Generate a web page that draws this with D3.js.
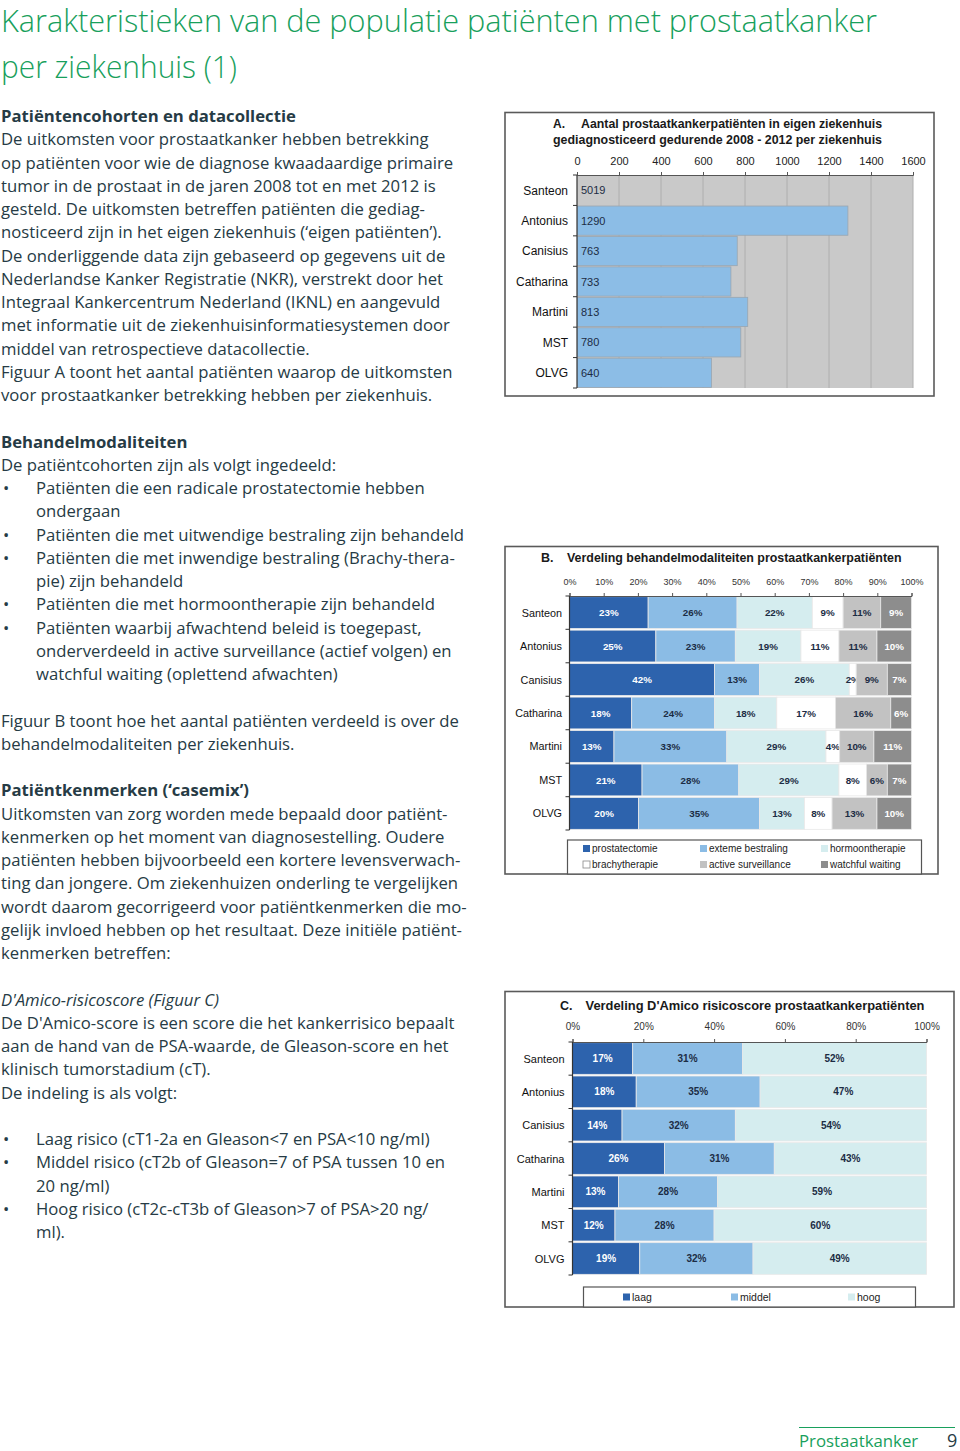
<!DOCTYPE html>
<html><head><meta charset="utf-8">
<script src="https://cdn.jsdelivr.net/npm/d3@7"></script>
<style>body{margin:0;background:#fff}svg{display:block}</style>
</head><body><svg id="page" width="960" height="1451"></svg>
<script>
// ---------- DATA ----------
const hospitals = ["Santeon","Antonius","Canisius","Catharina","Martini","MST","OLVG"];
const patientCounts = [5019,1290,763,733,813,780,640];
const countTicks = [0,200,400,600,800,1000,1200,1400,1600];

const modalities = ["prostatectomie","exteme bestraling","hormoontherapie","brachytherapie","active surveillance","watchful waiting"];
const prostatectomie     = [23,25,42,18,13,21,20];
const externeBestraling  = [26,23,13,24,33,28,35];
const hormoontherapie    = [22,19,26,18,29,29,13];
const brachytherapie     = [9,11,2,17,4,8,8];
const activeSurveillance = [11,11,9,16,10,6,13];
const watchfulWaiting    = [9,10,7,6,11,7,10];
const modalityTicks = [0,0.1,0.2,0.3,0.4,0.5,0.6,0.7,0.8,0.9,1];

const riskGroups = ["laag","middel","hoog"];
const riskLaag   = [17,18,14,26,13,12,19];
const riskMiddel = [31,35,32,31,28,28,32];
const riskHoog   = [52,47,54,43,59,60,49];
const riskTicks = [0,0.2,0.4,0.6,0.8,1];

// ---------- STYLE ----------
const GREEN = "#18a05c", TEXT = "#263b45";
const modalityColors = ["#2d63ad","#8bbce5","#d5edef","#ffffff","#c2c2c2","#8d8d8d"];
const modalityLabelColors = ["#ffffff","#1c2c44","#1c2c44","#1c2c44","#1c2c44","#ffffff"];
const riskColors = ["#2d63ad","#8bbce5","#d5edef"];
const riskLabelColors = ["#ffffff","#1c2c44","#1c2c44"];
const ARIAL = "'Liberation Sans', Arial, sans-serif";
const BODY = "'Open Sans', 'Noto Sans', sans-serif";

const svg = d3.select("#page");

// ---------- PAGE TITLE ----------
const titleLines = ["Karakteristieken van de populatie patiënten met prostaatkanker","per ziekenhuis (1)"];
const titleW = [876, 236];
titleLines.forEach((t,i)=>{
  svg.append("text").attr("x",1).attr("y",32+i*46).text(t)
    .attr("font-family",BODY).attr("font-weight",300).attr("font-size",31)
    .attr("fill",GREEN).attr("textLength",titleW[i]).attr("lengthAdjust","spacingAndGlyphs");
});

// ---------- BODY TEXT ----------
const body = [
 [0,"b","Patiëntencohorten en datacollectie"],
 [1,"n","De uitkomsten voor prostaatkanker hebben betrekking"],
 [2,"n","op patiënten voor wie de diagnose kwaadaardige primaire"],
 [3,"n","tumor in de prostaat in de jaren 2008 tot en met 2012 is"],
 [4,"n","gesteld. De uitkomsten betreffen patiënten die gediag-"],
 [5,"n","nosticeerd zijn in het eigen ziekenhuis (‘eigen patiënten’)."],
 [6,"n","De onderliggende data zijn gebaseerd op gegevens uit de"],
 [7,"n","Nederlandse Kanker Registratie (NKR), verstrekt door het"],
 [8,"n","Integraal Kankercentrum Nederland (IKNL) en aangevuld"],
 [9,"n","met informatie uit de ziekenhuisinformatiesystemen door"],
 [10,"n","middel van retrospectieve datacollectie."],
 [11,"n","Figuur A toont het aantal patiënten waarop de uitkomsten"],
 [12,"n","voor prostaatkanker betrekking hebben per ziekenhuis."],
 [14,"b","Behandelmodaliteiten"],
 [15,"n","De patiëntcohorten zijn als volgt ingedeeld:"],
 [16,"•","Patiënten die een radicale prostatectomie hebben"],
 [17,"s","ondergaan"],
 [18,"•","Patiënten die met uitwendige bestraling zijn behandeld"],
 [19,"•","Patiënten die met inwendige bestraling (Brachy-thera-"],
 [20,"s","pie) zijn behandeld"],
 [21,"•","Patiënten die met hormoontherapie zijn behandeld"],
 [22,"•","Patiënten waarbij afwachtend beleid is toegepast,"],
 [23,"s","onderverdeeld in active surveillance (actief volgen) en"],
 [24,"s","watchful waiting (oplettend afwachten)"],
 [26,"n","Figuur B toont hoe het aantal patiënten verdeeld is over de"],
 [27,"n","behandelmodaliteiten per ziekenhuis."],
 [29,"b","Patiëntkenmerken (‘casemix’)"],
 [30,"n","Uitkomsten van zorg worden mede bepaald door patiënt-"],
 [31,"n","kenmerken op het moment van diagnosestelling. Oudere"],
 [32,"n","patiënten hebben bijvoorbeeld een kortere levensverwach-"],
 [33,"n","ting dan jongere. Om ziekenhuizen onderling te vergelijken"],
 [34,"n","wordt daarom gecorrigeerd voor patiëntkenmerken die mo-"],
 [35,"n","gelijk invloed hebben op het resultaat. Deze initiële patiënt-"],
 [36,"n","kenmerken betreffen:"],
 [38,"i","D'Amico-risicoscore (Figuur C)"],
 [39,"n","De D'Amico-score is een score die het kankerrisico bepaalt"],
 [40,"n","aan de hand van de PSA-waarde, de Gleason-score en het"],
 [41,"n","klinisch tumorstadium (cT)."],
 [42,"n","De indeling is als volgt:"],
 [44,"•","Laag risico (cT1-2a en Gleason<7 en PSA<10 ng/ml)"],
 [45,"•","Middel risico (cT2b of Gleason=7 of PSA tussen 10 en"],
 [46,"s","20 ng/ml)"],
 [47,"•","Hoog risico (cT2c-cT3b of Gleason>7 of PSA>20 ng/"],
 [48,"s","ml)."]
];
const bodyG = svg.append("g").attr("font-family",BODY).attr("font-size",16.7).attr("fill",TEXT);
body.forEach(([i,s,t])=>{
  const y = 116 + i*23.25 + 6;
  const indent = (s==="•"||s==="s") ? 36 : 1;
  const tx = bodyG.append("text").attr("x",indent).attr("y",y).text(t);
  if (s==="b") tx.attr("font-weight",700);
  if (s==="i") tx.attr("font-style","italic");
  if (s==="•") bodyG.append("text").attr("x",3).attr("y",y).text("•");
});

// ---------- FOOTER ----------
svg.append("line").attr("x1",799).attr("x2",955).attr("y1",1427.5).attr("y2",1427.5).attr("stroke",GREEN).attr("stroke-width",1.2);
svg.append("text").attr("x",799).attr("y",1447).text("Prostaatkanker").attr("font-family",BODY).attr("font-size",16.8).attr("fill",GREEN);
svg.append("text").attr("x",947).attr("y",1447).text("9").attr("font-family",BODY).attr("font-size",18).attr("fill",TEXT);

// ---------- helpers ----------
function frame(x,y,w,h){
  svg.append("rect").attr("x",x).attr("y",y).attr("width",w).attr("height",h)
    .attr("fill","#fff").attr("stroke","#5a5a5a").attr("stroke-width",1.6);
}
function chartTitle(lines, letterX, textX, ys, endX, size){
  lines.forEach((ln,i)=>{
    if (ln.letter) svg.append("text").attr("x",letterX).attr("y",ys[i]+4.3).text(ln.letter)
      .attr("font-family",ARIAL).attr("font-weight",700).attr("font-size",size).attr("fill","#1a1a1a");
    const sx = ln.letter ? textX : letterX;
    svg.append("text").attr("x",sx).attr("y",ys[i]+4.3).text(ln.text)
      .attr("font-family",ARIAL).attr("font-weight",700).attr("font-size",size).attr("fill","#1a1a1a")
      .attr("textLength",endX-sx).attr("lengthAdjust","spacingAndGlyphs");
  });
}
function bandEdgeTicks(g, y, x0){
  const edges = [y.range()[0]].concat(y.domain().map(d=>y(d)+y.bandwidth()+y.step()*y.paddingInner()/2));
  edges[edges.length-1] = y.range()[1];
  g.selectAll(".edge").data(edges).join("line").attr("x1",x0-4).attr("x2",x0).attr("y1",d=>d).attr("y2",d=>d)
    .attr("stroke","#333").attr("stroke-width",1);
  g.append("line").attr("x1",x0).attr("x2",x0).attr("y1",y.range()[0]).attr("y2",y.range()[1]).attr("stroke","#333").attr("stroke-width",1.2);
}

// ---------- CHART A ----------
(function(){
  frame(505,112.5,429,283.5);
  chartTitle([{letter:"A.",text:"Aantal prostaatkankerpatiënten in eigen ziekenhuis"},{text:"gediagnosticeerd gedurende 2008 - 2012 per ziekenhuis"}],
    553, 581, [124,140], 882, 12);
  const x = d3.scaleLinear().domain([0,1600]).range([577,913]);
  const y = d3.scaleBand().domain(hospitals).range([175,388]).paddingInner(0.04).paddingOuter(0.02);
  const g = svg.append("g");
  g.append("rect").attr("x",x(0)).attr("y",175).attr("width",x(1600)-x(0)).attr("height",213).attr("fill","#c9c9c9");
  g.selectAll(".grid").data(countTicks.slice(1)).join("line").attr("x1",d=>x(d)).attr("x2",d=>x(d))
    .attr("y1",175).attr("y2",388).attr("stroke","#aeaeae").attr("stroke-width",1);
  const clip = svg.append("clipPath").attr("id","clipA");
  clip.append("rect").attr("x",x(0)).attr("y",170).attr("width",x(1600)-x(0)).attr("height",230);
  const data = hospitals.map((h,i)=>({h, v:patientCounts[i], total:i===0}));
  g.append("g").attr("clip-path","url(#clipA)").selectAll("rect").data(data).join("rect")
    .attr("x",x(0)).attr("y",d=>y(d.h)).attr("width",d=>x(d.v)-x(0)).attr("height",y.bandwidth())
    .attr("fill",d=>d.total?"none":"#8cbde6").attr("stroke",d=>d.total?"none":"#9aa6b0").attr("stroke-width",0.8);
  g.selectAll(".val").data(data).join("text").attr("x",x(0)+4).attr("y",d=>y(d.h)+y.bandwidth()/2+4)
    .text(d=>d.v).attr("font-family",ARIAL).attr("font-size",11).attr("fill","#1c2c44");
  const ax = d3.axisTop(x).tickValues(countTicks).tickFormat(d3.format("d")).tickSize(3).tickPadding(7);
  g.append("g").attr("transform","translate(0,175)").call(ax)
    .call(s=>s.selectAll("text").attr("font-family",ARIAL).attr("font-size",11).attr("fill","#222"))
    .call(s=>s.selectAll("line,path").attr("stroke","#555"));
  bandEdgeTicks(g,y,x(0));
  g.selectAll(".cat").data(hospitals).join("text").attr("x",568).attr("y",d=>y(d)+y.bandwidth()/2+4.3)
    .attr("text-anchor","end").text(d=>d).attr("font-family",ARIAL).attr("font-size",12).attr("fill","#111");
})();

// ---------- stacked chart ----------
function stackedChart(cfg){
  const rows = hospitals.map((h,i)=>{ const r={h}; cfg.keys.forEach((k,j)=>r[k]=cfg.series[j][i]); return r; });
  const stack = d3.stack().keys(cfg.keys).offset(d3.stackOffsetExpand)(rows);
  const x = d3.scaleLinear().domain([0,1]).range([cfg.x0,cfg.x1]);
  const y = d3.scaleBand().domain(hospitals).range([cfg.y0,cfg.y1]).paddingInner(0.05).paddingOuter(0.02);
  const g = svg.append("g");
  const layers = g.selectAll(".layer").data(stack).join("g");
  layers.selectAll("rect").data((d,li)=>d.map(p=>({p,li}))).join("rect")
    .attr("x",d=>x(d.p[0])).attr("width",d=>x(d.p[1])-x(d.p[0]))
    .attr("y",d=>y(d.p.data.h)).attr("height",y.bandwidth())
    .attr("fill",d=>cfg.colors[d.li]).attr("stroke","#e8e8e8").attr("stroke-width",0.8);
  layers.selectAll("text").data((d,li)=>d.map((p,hi)=>({p,li,v:cfg.series[li][hi]}))).join("text")
    .attr("x",d=>(x(d.p[0])+x(d.p[1]))/2).attr("y",d=>y(d.p.data.h)+y.bandwidth()/2+3.6)
    .attr("text-anchor","middle").text(d=>d.v+"%")
    .attr("font-family",ARIAL).attr("font-weight",700).attr("font-size",cfg.labelSize)
    .attr("fill",d=>cfg.labelColors[d.li]);
  const ax = d3.axisTop(x).tickValues(cfg.ticks).tickFormat(d3.format(".0%")).tickSize(3).tickPadding(cfg.tickPad);
  g.append("g").attr("transform",`translate(0,${cfg.y0})`).call(ax)
    .call(s=>s.selectAll("text").attr("font-family",ARIAL).attr("font-size",cfg.tickSize).attr("fill","#333"))
    .call(s=>s.selectAll("line,path").attr("stroke","#555"));
  bandEdgeTicks(g,y,x(0));
  g.selectAll(".cat").data(hospitals).join("text").attr("x",cfg.catX).attr("y",d=>y(d)+y.bandwidth()/2+4)
    .attr("text-anchor","end").text(d=>d).attr("font-family",ARIAL).attr("font-size",cfg.catSize).attr("fill","#111");
  // legend
  const L = cfg.legend;
  svg.append("rect").attr("x",L.x).attr("y",L.y).attr("width",L.w).attr("height",L.h)
    .attr("fill","#fff").attr("stroke","#555").attr("stroke-width",1.2);
  cfg.keys.forEach((k,i)=>{
    const [lx,ly] = L.pos[i];
    svg.append("rect").attr("x",lx).attr("y",ly-3.5).attr("width",7).attr("height",7)
      .attr("fill",cfg.colors[i]).attr("stroke",cfg.colors[i]==="#ffffff"?"#888":"none").attr("stroke-width",0.8);
    svg.append("text").attr("x",lx+9).attr("y",ly+3.6).text(k)
      .attr("font-family",ARIAL).attr("font-size",L.size).attr("fill","#222");
  });
}

// ---------- CHART B ----------
frame(505,546.5,433,327.5);
chartTitle([{letter:"B.",text:"Verdeling behandelmodaliteiten prostaatkankerpatiënten"}],541,567,[557.5],901.5,12.5);
stackedChart({
  keys:modalities,
  series:[prostatectomie,externeBestraling,hormoontherapie,brachytherapie,activeSurveillance,watchfulWaiting],
  colors:modalityColors, labelColors:modalityLabelColors,
  x0:569.5, x1:911.5, y0:596, y1:830, ticks:modalityTicks, tickSize:9, tickPad:8,
  labelSize:9.8, catX:562, catSize:10.8,
  legend:{x:567.5,y:840,w:354,h:34,size:10,pos:[[583,848.5],[700,848.5],[821,848.5],[583,864.5],[700,864.5],[821,864.5]]}
});

// ---------- CHART C ----------
frame(505,991.5,449,315.5);
chartTitle([{letter:"C.",text:"Verdeling D'Amico risicoscore prostaatkankerpatiënten"}],560,585.5,[1006],924.5,12.5);
stackedChart({
  keys:riskGroups,
  series:[riskLaag,riskMiddel,riskHoog],
  colors:riskColors, labelColors:riskLabelColors,
  x0:572.5, x1:926.5, y0:1042, y1:1275, ticks:riskTicks, tickSize:10, tickPad:9,
  labelSize:10, catX:564.5, catSize:11,
  legend:{x:583.5,y:1287,w:332,h:20,size:10.5,pos:[[623,1297],[731,1297],[848,1297]]}
});
</script></body></html>
